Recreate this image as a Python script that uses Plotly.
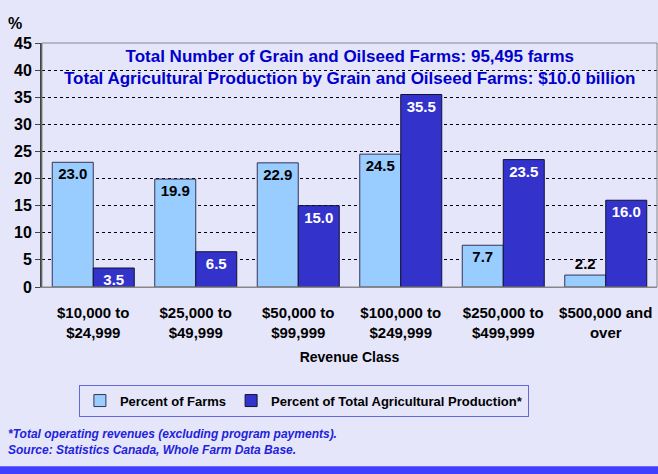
import plotly.graph_objects as go

# 收入分组
categories = ['$10,000 to<br>$24,999', '$25,000 to<br>$49,999', '$50,000 to<br>$99,999',
              '$100,000 to<br>$249,999', '$250,000 to<br>$499,999', '$500,000 and<br>over']
pct_farms = [23.0, 19.9, 22.9, 24.5, 7.7, 2.2]
pct_production = [3.5, 6.5, 15.0, 35.5, 23.5, 16.0]
y_ticks = [0, 5, 10, 15, 20, 25, 30, 35, 40, 45]

FONT = 'Arial, Liberation Sans, sans-serif'
BG = '#E6E6FA'


def make_figure():
    farms = go.Bar(
        x=categories, y=pct_farms, name='Percent of Farms',
        marker=dict(color='#99CCFF', line=dict(color='#333355', width=1)),
        text=['%.1f' % v for v in pct_farms],
        textposition=['inside'] * 5 + ['outside'],
        insidetextanchor='end',
        textfont=dict(color='black', size=15, family=FONT, weight='bold'),
        constraintext='none', cliponaxis=False,
    )
    production = go.Bar(
        x=categories, y=pct_production, name='Percent of Total Agricultural Production*',
        marker=dict(color='#3333CC', line=dict(color='#111133', width=1)),
        text=['%.1f' % v for v in pct_production],
        textposition='inside', insidetextanchor='end',
        textfont=dict(color='white', size=15, family=FONT, weight='bold'),
        constraintext='none',
    )

    layout = go.Layout(
        width=658, height=474,
        margin=dict(l=42, r=1, t=43, b=187),
        paper_bgcolor=BG, plot_bgcolor=BG,
        font=dict(family=FONT, size=14, color='black'),
        barmode='group', bargap=0.2, bargroupgap=0,
        showlegend=True,
        legend=dict(orientation='h', x=0.06, y=-0.40, xanchor='left', yanchor='top',
                    bgcolor=BG, bordercolor='#6666DD', borderwidth=1,
                    font=dict(size=13, family=FONT, weight='bold'), itemwidth=30, tracegroupgap=0),
        xaxis=dict(showline=True, linecolor='#888888', linewidth=1, ticks='',
                   tickfont=dict(size=15, weight='bold'), ticklabelstandoff=12,
                   title=dict(text='Revenue Class', standoff=12,
                              font=dict(size=14, weight='bold'))),
        yaxis=dict(range=[0, 45], tickvals=y_ticks, showline=True, linecolor='#444444', linewidth=2,
                   ticks='outside', ticklen=5, tickcolor='#444444',
                   showgrid=True, gridcolor='black', griddash='dot', gridwidth=1,
                   tickfont=dict(size=16, weight='bold'), zeroline=False),
        shapes=[
            dict(type='rect', xref='paper', yref='paper', x0=0, x1=1, y0=0, y1=1,
                 line=dict(color='#888888', width=1), layer='above'),
            dict(type='rect', xref='paper', yref='paper', x0=-0.08, x1=1.02, y0=-0.735, y1=-0.78,
                 fillcolor='#4040FF', line=dict(width=0)),
        ],
        annotations=[
            dict(text='<b>Total Number of Grain and Oilseed Farms: 95,495 farms</b><br>'
                      '<b>Total Agricultural Production by Grain and Oilseed Farms: $10.0 billion</b>',
                 xref='paper', yref='paper', x=0.5, y=0.99, xanchor='center', yanchor='top',
                 showarrow=False, font=dict(color='#0000CC', size=17, family=FONT)),
            dict(text='<b>%</b>', xref='paper', yref='paper', x=-0.058, y=1.08,
                 xanchor='left', yanchor='middle', showarrow=False, font=dict(size=16)),
            dict(text='<b><i>*Total operating revenues (excluding program payments).</i></b><br>'
                      '<b><i>Source: Statistics Canada, Whole Farm Data Base.</i></b>',
                 xref='paper', yref='paper', x=-0.059, y=-0.565, xanchor='left', yanchor='top',
                 align='left', showarrow=False, font=dict(color='#2222DD', size=12, family=FONT)),
        ],
    )

    return go.Figure(data=[farms, production], layout=layout)


if __name__ == '__main__':
    fig = make_figure()
    # 去掉页面默认边距和工具栏
    fig.write_html('out.html', config={'displayModeBar': False},
                   post_script="document.body.style.margin='0';")
